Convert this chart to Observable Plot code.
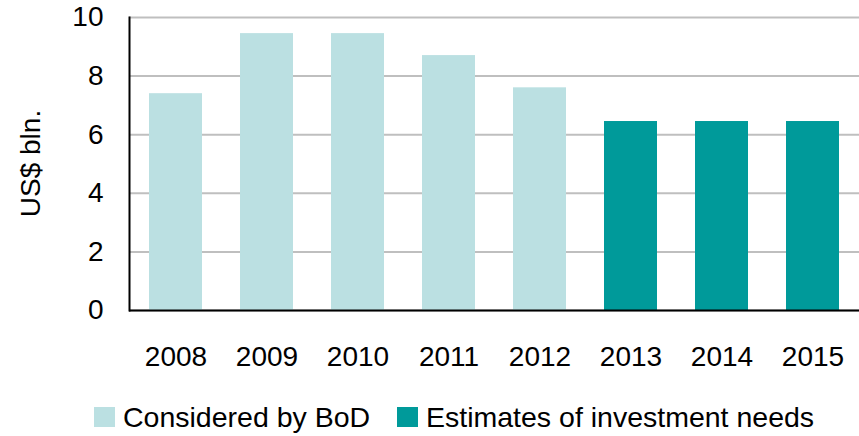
<!DOCTYPE html>
<html>
<head>
<meta charset="utf-8">
<script src="https://cdn.jsdelivr.net/npm/d3@7"></script>
<script src="https://cdn.jsdelivr.net/npm/@observablehq/plot@0.6"></script>
<style>
  html, body { margin: 0; padding: 0; background: #fff; }
  body { width: 859px; height: 436px; overflow: hidden; font-family: "Liberation Sans", Arial, sans-serif; }
  #legend { position: relative; height: 46px; font-size: 28.5px; color: #000; }
  .item { position: absolute; top: 7px; display: flex; align-items: center; height: 40px; white-space: nowrap; }
  .sw { width: 21px; height: 20px; margin-right: 8px; }
</style>
</head>
<body>
<div id="chart"></div>
<div id="legend"></div>
<script>
const years = ["2008", "2009", "2010", "2011", "2012", "2013", "2014", "2015"];
const values = [7.4, 9.45, 9.45, 8.7, 7.6, 6.45, 6.45, 6.45];
const seriesOf = ["Considered by BoD", "Considered by BoD", "Considered by BoD", "Considered by BoD", "Considered by BoD",
                  "Estimates of investment needs", "Estimates of investment needs", "Estimates of investment needs"];
const seriesNames = ["Considered by BoD", "Estimates of investment needs"];
const seriesColors = ["#bbe0e2", "#009a9a"];
const yTicks = [0, 2, 4, 6, 8, 10];

const data = years.map((y, i) => ({year: y, value: values[i], series: seriesOf[i]}));

const chart = Plot.plot({
  width: 859,
  height: 390,
  marginLeft: 129,
  marginRight: 0,
  marginTop: 17,
  marginBottom: 80,
  style: {fontFamily: "'Liberation Sans', Arial, sans-serif", fontSize: "28px", color: "#000", background: "#fff"},
  x: {domain: years, paddingInner: 0.42, paddingOuter: 0.21, label: null},
  y: {domain: [0, 10], ticks: yTicks, label: null},
  color: {domain: seriesNames, range: seriesColors},
  marks: [
    Plot.gridY(yTicks, {stroke: "#bfbfbf", strokeOpacity: 1, strokeWidth: 2}),
    Plot.barY(data, {x: "year", y: "value", fill: "series"}),
    Plot.axisY(yTicks, {tickSize: 0, tickPadding: 26, fontSize: 28, label: null}),
    Plot.axisX({tickSize: 0, tickPadding: 36, fontSize: 28, label: null}),
    Plot.frame({anchor: "left", stroke: "#000", strokeWidth: 2}),
    Plot.ruleY([0], {stroke: "#000", strokeWidth: 2})
  ]
});
document.getElementById("chart").appendChild(chart);

// y axis label
const svg = d3.select(chart);
svg.append("text")
  .attr("transform", "translate(30,163.5) rotate(-90)")
  .attr("text-anchor", "middle")
  .attr("dominant-baseline", "central")
  .attr("font-size", 28)
  .attr("fill", "#000")
  .text("US$ bln.");

// legend
const legend = document.getElementById("legend");
const lefts = [94, 397];
seriesNames.forEach((name, i) => {
  const it = document.createElement("div");
  it.className = "item";
  it.style.left = lefts[i] + "px";
  const sw = document.createElement("span");
  sw.className = "sw";
  sw.style.background = seriesColors[i];
  const t = document.createElement("span");
  t.textContent = name;
  it.appendChild(sw);
  it.appendChild(t);
  legend.appendChild(it);
});
</script>
</body>
</html>
